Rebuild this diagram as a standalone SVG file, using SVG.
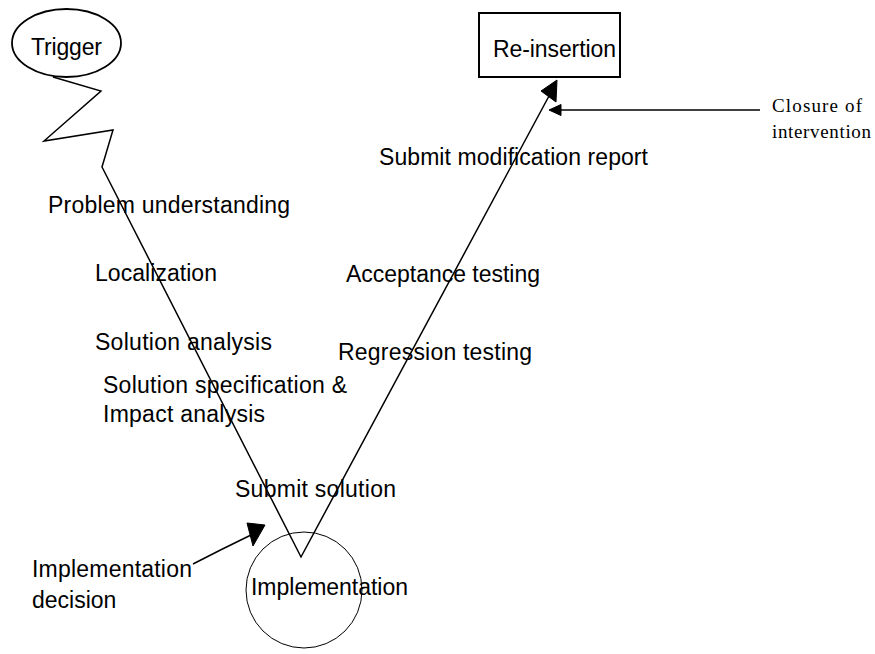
<svg xmlns="http://www.w3.org/2000/svg" width="875" height="654" viewBox="0 0 875 654">
  <style>
    .lbl { font-family: "Liberation Sans", Arial, sans-serif; font-size: 23px; fill: #000; }
    .note { font-family: "Liberation Serif", "Times New Roman", serif; font-size: 19px; fill: #000; }
    .edge { fill: none; stroke: #000; stroke-width: 1.5; }
    .head { fill: #000; stroke: #000; stroke-width: 1; stroke-linejoin: miter; }
  </style>
  <rect width="875" height="654" fill="#fff"/>

  <!-- connectors -->
  <g id="connectors">
    <!-- zigzag from Trigger down the left leg of the V, then up the right leg -->
    <polyline class="edge" points="53,77 101,91 44,141 113,130 102,167 301,557 549,96"/>
    <polygon class="head" points="557,80 541,91 556,102"/>
    <!-- closure of intervention pointer -->
    <line class="edge" x1="760" y1="110" x2="560" y2="110"/>
    <polygon class="head" points="549,110 561,104.5 561,115.5"/>
    <!-- implementation decision pointer -->
    <path class="edge" d="M193,564 Q222,549 251,535"/>
    <polygon class="head" points="265,525 247,523 253,546"/>
  </g>

  <g id="trigger">
    <ellipse cx="66.5" cy="43" rx="54.5" ry="34" fill="none" stroke="#000" stroke-width="1.8"/>
    <text class="lbl" x="31" y="55" textLength="71">Trigger</text>
  </g>

  <g id="reinsertion">
    <rect x="479" y="13" width="141" height="64" fill="none" stroke="#000" stroke-width="2"/>
    <text class="lbl" x="493" y="57" textLength="123">Re-insertion</text>
  </g>

  <g id="implementation">
    <circle cx="304" cy="590" r="58" fill="none" stroke="#000" stroke-width="1"/>
    <text class="lbl" x="251" y="595" textLength="157">Implementation</text>
  </g>

  <g id="closure">
    <text class="note" x="772" y="112" textLength="90">Closure of</text>
    <text class="note" x="772" y="138" textLength="99">intervention</text>
  </g>

  <g id="impl-decision">
    <text class="lbl" x="32" y="577" textLength="160">Implementation</text>
    <text class="lbl" x="32" y="608">decision</text>
  </g>

  <g id="left-steps">
    <text class="lbl" x="48" y="213" textLength="242">Problem understanding</text>
    <text class="lbl" x="95" y="281" textLength="122">Localization</text>
    <text class="lbl" x="95" y="350" textLength="177">Solution analysis</text>
    <text class="lbl" x="103" y="393" textLength="244">Solution specification &amp;</text>
    <text class="lbl" x="103" y="422" textLength="162">Impact analysis</text>
    <text class="lbl" x="235" y="497" textLength="161">Submit solution</text>
  </g>

  <g id="right-steps">
    <text class="lbl" x="379" y="165" textLength="269">Submit modification report</text>
    <text class="lbl" x="346" y="282" textLength="194">Acceptance testing</text>
    <text class="lbl" x="338" y="360" textLength="194">Regression testing</text>
  </g>
</svg>
